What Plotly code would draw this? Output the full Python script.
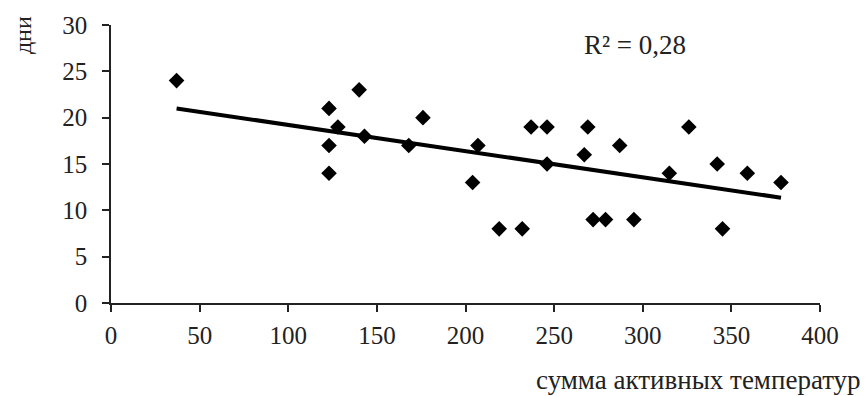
import numpy as np
import plotly.graph_objects as go

# Data
temp_sum = [37, 123, 128, 140, 143, 123, 123, 168, 176, 204, 207, 219, 232, 237,
            246, 246, 267, 269, 272, 279, 287, 295, 315, 326, 342, 345, 359, 378]
days = [24, 21, 19, 23, 18, 17, 14, 17, 20, 13, 17, 8, 8, 19,
        19, 15, 16, 19, 9, 9, 17, 9, 14, 19, 15, 8, 14, 13]
x_ticks = [0, 50, 100, 150, 200, 250, 300, 350, 400]
y_ticks = [0, 5, 10, 15, 20, 25, 30]
r2_label = "R² = 0,28"
x_title = "сумма активных температур"
y_title = "дни"

xs = np.array(temp_sum, dtype=float)
ys = np.array(days, dtype=float)
slope, intercept = np.polyfit(xs, ys, 1)
trend_x = [xs.min(), xs.max()]
trend_y = [slope * v + intercept for v in trend_x]

FONT = "Liberation Serif"
INK = "#222222"

fig = go.Figure()
fig.add_trace(go.Scatter(
    x=trend_x, y=trend_y, mode="lines",
    line=dict(color="black", width=4), hoverinfo="skip", showlegend=False))
fig.add_trace(go.Scatter(
    x=temp_sum, y=days, mode="markers",
    marker=dict(symbol="diamond", size=12, color="black"),
    showlegend=False))

fig.update_layout(
    width=866, height=396,
    margin=dict(l=111, r=46, t=25, b=93),
    paper_bgcolor="white", plot_bgcolor="white",
    font=dict(family=FONT, color=INK, size=24),
    xaxis=dict(range=[0, 400], tickvals=x_ticks, ticktext=[str(v) for v in x_ticks],
               showgrid=False, zeroline=False, showline=True, linecolor=INK,
               linewidth=1.5, ticks="outside", ticklen=7, tickcolor=INK,
               tickwidth=1.5, ticklabelstandoff=2,
               tickfont=dict(family=FONT, size=25, color=INK)),
    yaxis=dict(range=[0, 30], tickvals=y_ticks, ticktext=[str(v) for v in y_ticks],
               showgrid=False, zeroline=False, showline=True, linecolor=INK,
               linewidth=1.5, ticks="outside", ticklen=7, tickcolor=INK,
               tickwidth=1.5, ticklabelstandoff=10,
               tickfont=dict(family=FONT, size=25, color=INK)),
    annotations=[
        dict(text=r2_label, x=265.7, y=27.85, xref="x", yref="y",
             xanchor="left", yanchor="middle", showarrow=False,
             font=dict(family=FONT, size=27, color=INK)),
        dict(text=x_title, x=1.0606, y=-0.2756, xref="paper", yref="paper",
             xanchor="right", yanchor="middle", showarrow=False,
             font=dict(family=FONT, size=27, color=INK)),
        dict(text=y_title, x=-0.124, y=0.964, xref="paper", yref="paper",
             xanchor="center", yanchor="middle", showarrow=False, textangle=-90,
             font=dict(family=FONT, size=24, color=INK)),
    ],
)

fig.write_html(
    "out.html",
    config={"displayModeBar": False},
    post_script="document.body.style.margin='0';document.body.style.overflow='hidden';",
)
